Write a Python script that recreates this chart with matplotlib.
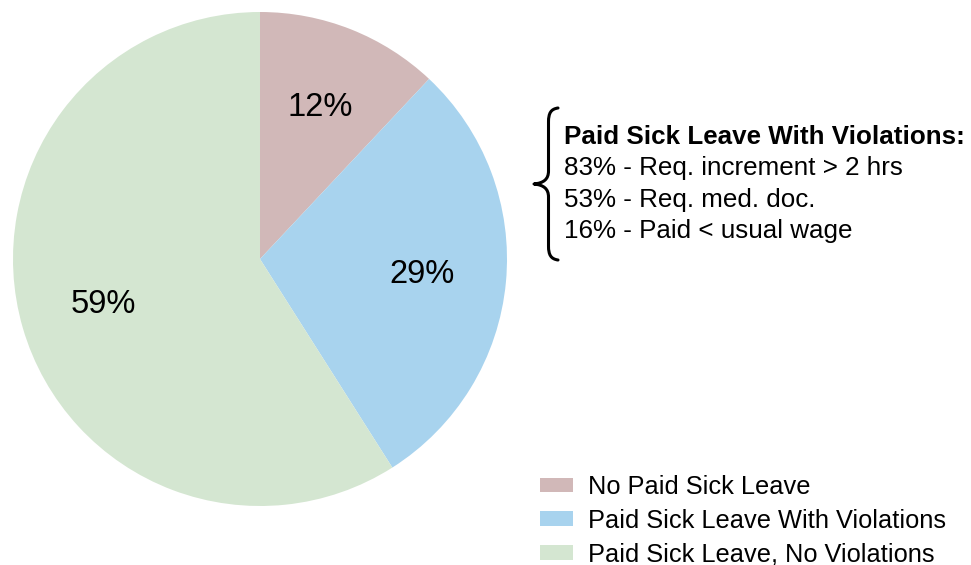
import matplotlib
matplotlib.use("Agg")
import matplotlib.pyplot as plt
from matplotlib.path import Path
from matplotlib.patches import PathPatch

plt.rcParams['font.family'] = ['Liberation Sans', 'DejaVu Sans']

# Data
categories = ["No Paid Sick Leave", "Paid Sick Leave With Violations", "Paid Sick Leave, No Violations"]
shares = [12, 29, 59]
colors = ["#d1b8b8", "#a8d3ee", "#d4e6d1"]

violation_title = "Paid Sick Leave With Violations:"
violation_items = [
    "83% - Req. increment > 2 hrs",
    "53% - Req. med. doc.",
    "16% - Paid < usual wage",
]

W, H = 971, 565
fig = plt.figure(figsize=(W / 100, H / 100), dpi=100)

# Pie occupies a square region on the left
cx, cy, r = 260, 259, 247
ax = fig.add_axes([(cx - r) / W, 1 - (cy + r) / H, 2 * r / W, 2 * r / H])
wedges, texts, autotexts = ax.pie(
    shares, colors=colors, startangle=90, counterclock=False,
    autopct=lambda p: f"{p:.0f}%", pctdistance=0.66,
    wedgeprops=dict(linewidth=0), textprops=dict(fontsize=23.5, color="black"),
)
ax.set_xlim(-1, 1)
ax.set_ylim(-1, 1)
ax.set_aspect("equal")
ax.axis("off")

# Breakdown of violations, with a curly brace on the left
def fx(px):
    return px / W

def fy(py):
    return 1 - py / H

brace_pts = [
    (558, 108), (551, 109), (548.5, 113), (548.5, 122),
    (548.5, 171),
    (548.5, 179), (544, 183), (534, 184),
    (544, 185), (548.5, 189), (548.5, 197),
    (548.5, 246),
    (548.5, 255), (551, 259), (558, 260),
]
codes = [Path.MOVETO, Path.CURVE4, Path.CURVE4, Path.CURVE4,
         Path.LINETO,
         Path.CURVE4, Path.CURVE4, Path.CURVE4,
         Path.CURVE4, Path.CURVE4, Path.CURVE4,
         Path.LINETO,
         Path.CURVE4, Path.CURVE4, Path.CURVE4]
brace = PathPatch(Path([(fx(x), fy(y)) for x, y in brace_pts], codes),
                  transform=fig.transFigure, fill=False, lw=2.2,
                  edgecolor="black", capstyle="round", joinstyle="round")
fig.patches.append(brace)

fig.text(fx(564), fy(144), violation_title, fontsize=18.7, fontweight="bold",
         va="baseline", ha="left")
for i, line in enumerate(violation_items):
    fig.text(fx(564), fy(175.5 + 31.3 * i), line, fontsize=18.7,
             va="baseline", ha="left")

# Legend
fig.legend(wedges, categories, loc="upper left",
           bbox_to_anchor=(fx(540), fy(475)), frameon=False,
           fontsize=18.3, handlelength=1.3, handleheight=0.52,
           handletextpad=0.6, labelspacing=0.38, borderpad=0,
           borderaxespad=0)

fig.savefig("out.png", dpi=100, facecolor="white")
